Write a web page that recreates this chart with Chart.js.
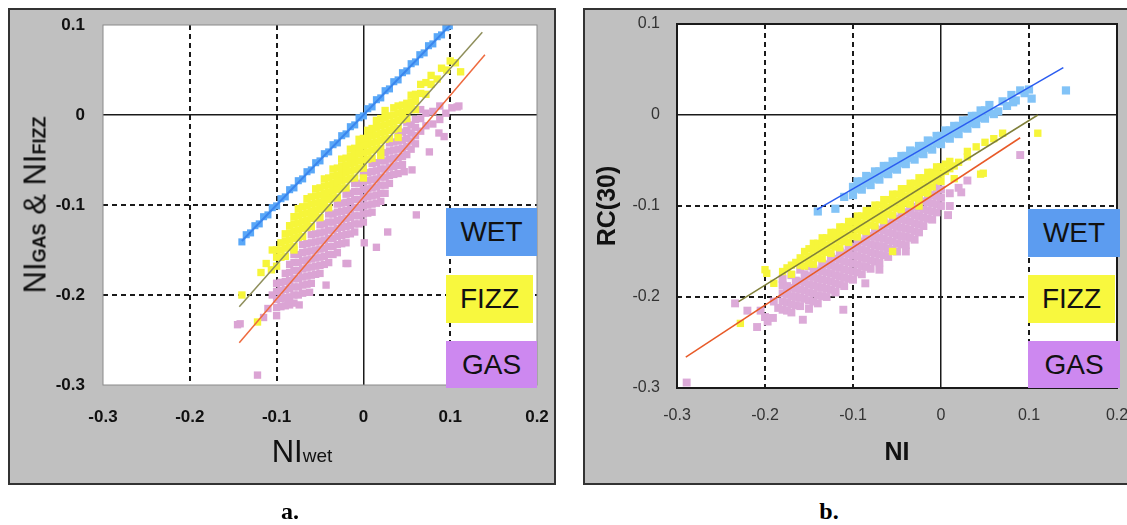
<!DOCTYPE html>
<html>
<head>
<meta charset="utf-8">
<script src="https://cdn.jsdelivr.net/npm/chart.js@4.4.1/dist/chart.umd.min.js"></script>
<style>
  html, body { margin: 0; padding: 0; width: 1127px; height: 525px; overflow: hidden; background: #fff;
    font-family: "Liberation Sans", Arial, sans-serif; }
  .box { position: absolute; background: #c0c0c0; border: 2px solid #333; box-sizing: border-box; }
  canvas { position: absolute; }
  .key { position: absolute; font-size: 28px; color: #111; display: flex; align-items: center; justify-content: center; }
  .title { position: absolute; white-space: nowrap; color: #111; line-height: 1; }
  .cap { position: absolute; font: bold 24px "Liberation Serif", serif; transform: translate(-50%, -50%); }
</style>
</head>
<body>
<div class="box" style="left:8px;top:8px;width:548px;height:477px"></div>
<div class="box" style="left:583px;top:8px;width:560px;height:477px"></div>
<canvas id="chartA" width="547" height="476" style="left:8px;top:8px"></canvas>
<canvas id="chartB" width="560" height="476" style="left:583px;top:8px"></canvas>

<div class="title" style="left:35px;top:205px;transform:translate(-50%,-50%) rotate(-90deg)"><span style="font-size:31px">NI</span><span style="font-size:18px;font-weight:bold">GAS</span><span style="font-size:31px"> &amp; NI</span><span style="font-size:18px;font-weight:bold">FIZZ</span></div>
<div class="title" style="left:302px;top:451px;transform:translate(-50%,-50%)"><span style="font-size:31px">NI</span><span style="font-size:19px">wet</span></div>

<div class="cap" style="left:290px;top:511px">a.</div>
<div class="cap" style="left:829px;top:511px">b.</div>

<script>
const xTicks = [-0.3, -0.2, -0.1, 0, 0.1, 0.2];
const yTicks = [-0.3, -0.2, -0.1, 0, 0.1];
const keyNames = ['WET', 'FIZZ', 'GAS'];

// panel a: NI_GAS & NI_FIZZ against NI_wet
const aWet = [[-0.140,-0.141],[-0.135,-0.133],[-0.130,-0.131],[-0.125,-0.123],[-0.120,-0.121],[-0.115,-0.113],
  [-0.110,-0.111],[-0.105,-0.103],[-0.100,-0.101],[-0.095,-0.093],[-0.090,-0.091],[-0.085,-0.083],[-0.080,-0.081],
  [-0.075,-0.073],[-0.070,-0.071],[-0.065,-0.063],[-0.060,-0.061],[-0.055,-0.053],[-0.050,-0.051],[-0.045,-0.043],
  [-0.040,-0.041],[-0.035,-0.033],[-0.030,-0.031],[-0.025,-0.023],[-0.020,-0.021],[-0.015,-0.013],[-0.010,-0.011],
  [-0.005,-0.003],[0.000,-0.001],[0.005,0.007],[0.010,0.009],[0.015,0.017],[0.020,0.019],[0.025,0.027],
  [0.030,0.029],[0.035,0.037],[0.040,0.039],[0.045,0.047],[0.050,0.049],[0.055,0.057],[0.060,0.059],
  [0.065,0.067],[0.070,0.069],[0.075,0.077],[0.080,0.079],[0.085,0.087],[0.090,0.089],[0.095,0.097],[0.099,0.099]];
const aFizz = [
  [-0.100,-0.168],[-0.100,-0.158],[-0.100,-0.150],[-0.095,-0.158],[-0.095,-0.150],[-0.095,-0.142],
  [-0.090,-0.157],[-0.090,-0.148],[-0.090,-0.140],[-0.090,-0.132],[-0.085,-0.147],[-0.085,-0.139],[-0.085,-0.131],
  [-0.085,-0.123],[-0.080,-0.146],[-0.080,-0.137],[-0.080,-0.129],[-0.080,-0.121],[-0.080,-0.113],
  [-0.075,-0.136],[-0.075,-0.128],[-0.075,-0.120],[-0.075,-0.112],[-0.075,-0.104],
  [-0.070,-0.135],[-0.070,-0.126],[-0.070,-0.118],[-0.070,-0.110],[-0.070,-0.102],
  [-0.065,-0.125],[-0.065,-0.117],[-0.065,-0.109],[-0.065,-0.101],[-0.065,-0.093],
  [-0.060,-0.124],[-0.060,-0.115],[-0.060,-0.107],[-0.060,-0.099],[-0.060,-0.091],
  [-0.055,-0.114],[-0.055,-0.106],[-0.055,-0.098],[-0.055,-0.090],[-0.055,-0.082],
  [-0.050,-0.114],[-0.050,-0.105],[-0.050,-0.097],[-0.050,-0.089],[-0.050,-0.081],
  [-0.045,-0.103],[-0.045,-0.095],[-0.045,-0.087],[-0.045,-0.079],[-0.045,-0.071],
  [-0.040,-0.103],[-0.040,-0.094],[-0.040,-0.086],[-0.040,-0.078],[-0.040,-0.070],
  [-0.035,-0.092],[-0.035,-0.084],[-0.035,-0.076],[-0.035,-0.068],[-0.035,-0.060],
  [-0.030,-0.092],[-0.030,-0.083],[-0.030,-0.075],[-0.030,-0.067],[-0.030,-0.059],
  [-0.025,-0.081],[-0.025,-0.073],[-0.025,-0.065],[-0.025,-0.057],[-0.025,-0.049],
  [-0.020,-0.081],[-0.020,-0.072],[-0.020,-0.064],[-0.020,-0.056],[-0.020,-0.048],
  [-0.015,-0.070],[-0.015,-0.062],[-0.015,-0.054],[-0.015,-0.046],[-0.015,-0.038],
  [-0.010,-0.070],[-0.010,-0.061],[-0.010,-0.053],[-0.010,-0.045],[-0.010,-0.037],
  [-0.005,-0.059],[-0.005,-0.051],[-0.005,-0.043],[-0.005,-0.035],[-0.005,-0.027],
  [0.000,-0.059],[0.000,-0.050],[0.000,-0.042],[0.000,-0.034],[0.000,-0.026],
  [0.005,-0.049],[0.005,-0.041],[0.005,-0.033],[0.005,-0.025],[0.005,-0.017],
  [0.010,-0.048],[0.010,-0.039],[0.010,-0.031],[0.010,-0.023],[0.010,-0.015],
  [0.015,-0.038],[0.015,-0.030],[0.015,-0.022],[0.015,-0.014],[0.015,-0.006],
  [0.020,-0.037],[0.020,-0.028],[0.020,-0.020],[0.020,-0.012],[0.020,-0.004],
  [0.025,-0.027],[0.025,-0.019],[0.025,-0.011],[0.025,-0.003],[0.025,0.005],
  [0.030,-0.026],[0.030,-0.017],[0.030,-0.009],[0.030,-0.001],[0.035,-0.016],[0.035,-0.008],[0.035,0.000],
  [0.035,0.008],[0.040,-0.015],[0.040,-0.006],[0.040,0.002],[0.040,0.010],[0.045,-0.005],[0.045,0.003],
  [0.045,0.011],[0.050,-0.004],[0.050,0.005],[0.050,0.013],[0.055,0.006],[0.055,0.014],[0.055,0.022],
  [0.060,0.006],[0.060,0.015],[0.060,0.023],
  [0.066,0.024],[0.066,0.034],[0.072,0.023],[0.072,0.036],[0.078,0.034],[0.078,0.044],[0.085,0.040],
  [0.090,0.052],[0.096,0.050],[0.100,0.060],[0.106,0.058],[0.112,0.048],
  [-0.140,-0.200],[-0.122,-0.230],[-0.118,-0.175],[-0.112,-0.165],[-0.106,-0.172],[-0.105,-0.150],
  [-0.080,-0.150],[0.000,-0.070],[0.020,-0.045],[0.040,-0.025]];
const aGas = [
  [-0.100,-0.223],[-0.100,-0.214],[-0.100,-0.205],[-0.100,-0.196],[-0.100,-0.187],
  [-0.095,-0.213],[-0.095,-0.204],[-0.095,-0.195],[-0.095,-0.186],
  [-0.090,-0.212],[-0.090,-0.203],[-0.090,-0.194],[-0.090,-0.185],[-0.090,-0.176],
  [-0.085,-0.211],[-0.085,-0.202],[-0.085,-0.193],[-0.085,-0.184],[-0.085,-0.175],[-0.085,-0.166],
  [-0.080,-0.209],[-0.080,-0.200],[-0.080,-0.191],[-0.080,-0.182],[-0.080,-0.173],[-0.080,-0.164],[-0.080,-0.155],
  [-0.075,-0.200],[-0.075,-0.191],[-0.075,-0.182],[-0.075,-0.173],[-0.075,-0.164],[-0.075,-0.155],
  [-0.070,-0.198],[-0.070,-0.189],[-0.070,-0.180],[-0.070,-0.171],[-0.070,-0.162],[-0.070,-0.153],[-0.070,-0.144],
  [-0.065,-0.188],[-0.065,-0.179],[-0.065,-0.170],[-0.065,-0.161],[-0.065,-0.152],[-0.065,-0.143],
  [-0.060,-0.187],[-0.060,-0.178],[-0.060,-0.169],[-0.060,-0.160],[-0.060,-0.151],[-0.060,-0.142],[-0.060,-0.133],
  [-0.055,-0.177],[-0.055,-0.168],[-0.055,-0.159],[-0.055,-0.150],[-0.055,-0.141],[-0.055,-0.132],
  [-0.050,-0.176],[-0.050,-0.167],[-0.050,-0.158],[-0.050,-0.149],[-0.050,-0.140],[-0.050,-0.131],[-0.050,-0.122],
  [-0.045,-0.166],[-0.045,-0.157],[-0.045,-0.148],[-0.045,-0.139],[-0.045,-0.130],[-0.045,-0.121],
  [-0.040,-0.164],[-0.040,-0.155],[-0.040,-0.146],[-0.040,-0.137],[-0.040,-0.128],[-0.040,-0.119],[-0.040,-0.110],
  [-0.035,-0.155],[-0.035,-0.146],[-0.035,-0.137],[-0.035,-0.128],[-0.035,-0.119],[-0.035,-0.110],
  [-0.030,-0.153],[-0.030,-0.144],[-0.030,-0.135],[-0.030,-0.126],[-0.030,-0.117],[-0.030,-0.108],[-0.030,-0.099],
  [-0.025,-0.143],[-0.025,-0.134],[-0.025,-0.125],[-0.025,-0.116],[-0.025,-0.107],[-0.025,-0.098],
  [-0.020,-0.142],[-0.020,-0.133],[-0.020,-0.124],[-0.020,-0.115],[-0.020,-0.106],[-0.020,-0.097],[-0.020,-0.088],
  [-0.015,-0.132],[-0.015,-0.123],[-0.015,-0.114],[-0.015,-0.105],[-0.015,-0.096],[-0.015,-0.087],
  [-0.010,-0.130],[-0.010,-0.121],[-0.010,-0.112],[-0.010,-0.103],[-0.010,-0.094],[-0.010,-0.085],[-0.010,-0.076],
  [-0.005,-0.121],[-0.005,-0.112],[-0.005,-0.103],[-0.005,-0.094],[-0.005,-0.085],[-0.005,-0.076],
  [0.000,-0.119],[0.000,-0.110],[0.000,-0.101],[0.000,-0.092],[0.000,-0.083],[0.000,-0.074],[0.000,-0.065],
  [0.005,-0.109],[0.005,-0.100],[0.005,-0.091],[0.005,-0.082],[0.005,-0.073],[0.005,-0.064],
  [0.010,-0.108],[0.010,-0.099],[0.010,-0.090],[0.010,-0.081],[0.010,-0.072],[0.010,-0.063],[0.010,-0.054],
  [0.015,-0.098],[0.015,-0.089],[0.015,-0.080],[0.015,-0.071],[0.015,-0.062],[0.015,-0.053],
  [0.020,-0.096],[0.020,-0.087],[0.020,-0.078],[0.020,-0.069],[0.020,-0.060],[0.020,-0.051],[0.020,-0.042],
  [0.025,-0.087],[0.025,-0.078],[0.025,-0.069],[0.025,-0.060],[0.025,-0.051],[0.025,-0.042],
  [0.030,-0.076],[0.030,-0.067],[0.030,-0.058],[0.030,-0.049],[0.030,-0.040],[0.030,-0.031],
  [0.035,-0.066],[0.035,-0.057],[0.035,-0.048],[0.035,-0.039],[0.035,-0.030],
  [0.040,-0.065],[0.040,-0.056],[0.040,-0.047],[0.040,-0.038],[0.040,-0.029],[0.040,-0.020],
  [0.045,-0.055],[0.045,-0.046],[0.045,-0.037],[0.045,-0.028],[0.045,-0.019],
  [0.050,-0.044],[0.050,-0.035],[0.050,-0.026],[0.050,-0.017],[0.050,-0.008],
  [0.055,-0.038],[0.055,-0.029],[0.055,-0.020],[0.055,-0.011],[0.060,-0.032],[0.060,-0.023],[0.060,-0.014],
  [0.060,-0.005],[0.066,-0.018],[0.066,-0.004],[0.066,0.006],[0.072,-0.012],[0.072,0.002],[0.080,-0.010],
  [0.080,0.004],[0.088,0.010],[0.088,-0.005],[0.095,0.002],[0.102,0.008],[0.110,0.010],
  [-0.142,-0.232],[-0.145,-0.233],[-0.122,-0.289],[-0.115,-0.225],[-0.110,-0.215],[-0.105,-0.200],[-0.087,-0.208],
  [-0.074,-0.211],[-0.062,-0.197],[-0.043,-0.189],[-0.020,-0.165],[-0.018,-0.165],[0.001,-0.142],[0.015,-0.147],
  [0.028,-0.130],[0.047,-0.063],[0.056,-0.061],[0.061,-0.111],[0.087,-0.020],[0.093,-0.024],[0.108,0.009],
  [0.076,-0.041]];
const aWetFit = [[-0.140,-0.140],[0.100,0.100]];
const aFizzFit = [[-0.143,-0.213],[0.137,0.092]];
const aGasFit = [[-0.143,-0.253],[0.140,0.067]];

// panel b: RC(30) against NI
const bWet = [[-0.140,-0.106],[-0.120,-0.103],[-0.110,-0.090],[-0.100,-0.088],[-0.100,-0.079],[-0.095,-0.081],
  [-0.095,-0.073],[-0.090,-0.082],[-0.090,-0.073],[-0.085,-0.075],[-0.085,-0.067],[-0.080,-0.077],[-0.080,-0.068],
  [-0.075,-0.070],[-0.075,-0.062],[-0.070,-0.071],[-0.070,-0.062],[-0.065,-0.064],[-0.065,-0.056],[-0.060,-0.065],
  [-0.060,-0.056],[-0.055,-0.059],[-0.055,-0.051],[-0.050,-0.060],[-0.050,-0.051],[-0.045,-0.053],[-0.045,-0.045],
  [-0.040,-0.054],[-0.040,-0.045],[-0.035,-0.047],[-0.035,-0.039],[-0.030,-0.049],[-0.030,-0.040],[-0.025,-0.042],
  [-0.025,-0.034],[-0.020,-0.043],[-0.020,-0.034],[-0.015,-0.036],[-0.015,-0.028],[-0.010,-0.038],[-0.010,-0.029],
  [-0.005,-0.031],[-0.005,-0.023],[0.000,-0.032],[0.000,-0.023],[0.005,-0.025],[0.005,-0.017],[0.010,-0.026],
  [0.010,-0.017],[0.015,-0.020],[0.015,-0.012],[0.020,-0.021],[0.020,-0.012],[0.025,-0.014],[0.025,-0.006],
  [0.030,-0.015],[0.030,-0.006],[0.035,-0.009],[0.035,-0.001],[0.040,-0.010],[0.040,-0.001],[0.045,-0.003],
  [0.045,0.005],[0.050,-0.004],[0.050,0.005],[0.055,0.003],[0.055,0.011],[0.060,0.001],[0.065,0.004],
  [0.070,0.015],[0.075,0.010],[0.080,0.022],[0.082,0.014],[0.085,0.016],[0.090,0.027],[0.095,0.024],
  [0.100,0.028],[0.103,0.018],[0.142,0.027]];
const bFizz = [
  [-0.160,-0.165],[-0.160,-0.157],[-0.155,-0.166],[-0.155,-0.158],[-0.155,-0.150],[-0.150,-0.163],[-0.150,-0.155],
  [-0.150,-0.147],[-0.145,-0.164],[-0.145,-0.156],[-0.145,-0.148],[-0.145,-0.141],[-0.140,-0.157],[-0.140,-0.149],
  [-0.140,-0.141],[-0.135,-0.158],[-0.135,-0.150],[-0.135,-0.142],[-0.135,-0.135],[-0.130,-0.151],[-0.130,-0.143],
  [-0.130,-0.135],[-0.125,-0.152],[-0.125,-0.144],[-0.125,-0.136],[-0.125,-0.129],[-0.120,-0.145],[-0.120,-0.137],
  [-0.120,-0.129],[-0.115,-0.146],[-0.115,-0.138],[-0.115,-0.130],[-0.115,-0.123],[-0.110,-0.139],[-0.110,-0.131],
  [-0.110,-0.123],[-0.105,-0.140],[-0.105,-0.132],[-0.105,-0.124],[-0.105,-0.117],[-0.100,-0.133],[-0.100,-0.125],
  [-0.100,-0.117],[-0.095,-0.134],[-0.095,-0.126],[-0.095,-0.118],[-0.095,-0.111],[-0.090,-0.127],[-0.090,-0.119],
  [-0.090,-0.111],[-0.085,-0.128],[-0.085,-0.120],[-0.085,-0.112],[-0.085,-0.105],[-0.080,-0.121],[-0.080,-0.113],
  [-0.080,-0.105],[-0.075,-0.122],[-0.075,-0.114],[-0.075,-0.106],[-0.075,-0.099],[-0.070,-0.115],[-0.070,-0.107],
  [-0.070,-0.099],[-0.065,-0.116],[-0.065,-0.108],[-0.065,-0.100],[-0.065,-0.093],[-0.060,-0.109],[-0.060,-0.101],
  [-0.060,-0.093],[-0.055,-0.110],[-0.055,-0.102],[-0.055,-0.094],[-0.055,-0.087],[-0.050,-0.103],[-0.050,-0.095],
  [-0.050,-0.087],[-0.045,-0.104],[-0.045,-0.096],[-0.045,-0.088],[-0.045,-0.081],[-0.040,-0.097],[-0.040,-0.089],
  [-0.040,-0.081],[-0.035,-0.098],[-0.035,-0.090],[-0.035,-0.082],[-0.035,-0.075],[-0.030,-0.091],[-0.030,-0.083],
  [-0.030,-0.075],[-0.025,-0.092],[-0.025,-0.084],[-0.025,-0.076],[-0.025,-0.069],[-0.020,-0.085],[-0.020,-0.077],
  [-0.020,-0.069],[-0.015,-0.086],[-0.015,-0.078],[-0.015,-0.070],[-0.015,-0.063],[-0.010,-0.079],[-0.010,-0.071],
  [-0.010,-0.063],[-0.005,-0.072],[-0.005,-0.064],[-0.005,-0.057],[0.000,-0.073],[0.000,-0.065],[0.000,-0.057],
  [0.005,-0.062],[0.005,-0.054],[0.010,-0.059],[0.010,-0.051],[0.015,-0.056],[0.020,-0.052],
  [-0.200,-0.170],[-0.198,-0.174],[-0.190,-0.185],[-0.180,-0.172],[-0.175,-0.168],[-0.170,-0.165],[-0.170,-0.175],
  [-0.165,-0.162],[0.030,-0.046],[0.030,-0.040],[0.040,-0.035],[0.050,-0.030],[0.060,-0.026],[0.070,-0.020],
  [0.110,-0.020],[0.045,-0.065],[0.048,-0.064],[-0.025,-0.100],[0.015,-0.070],[-0.055,-0.150],[-0.228,-0.229]];
const bGas = [
  [-0.180,-0.214],[-0.180,-0.205],[-0.180,-0.196],[-0.180,-0.187],[-0.175,-0.215],[-0.175,-0.206],[-0.175,-0.197],
  [-0.175,-0.188],[-0.170,-0.217],[-0.170,-0.208],[-0.170,-0.199],[-0.170,-0.190],[-0.165,-0.209],[-0.165,-0.200],
  [-0.165,-0.191],[-0.165,-0.182],[-0.160,-0.210],[-0.160,-0.201],[-0.160,-0.192],[-0.160,-0.183],[-0.155,-0.202],
  [-0.155,-0.193],[-0.155,-0.184],[-0.155,-0.175],[-0.150,-0.213],[-0.150,-0.204],[-0.150,-0.195],[-0.150,-0.186],
  [-0.150,-0.177],[-0.145,-0.205],[-0.145,-0.196],[-0.145,-0.187],[-0.145,-0.178],[-0.145,-0.169],[-0.140,-0.207],
  [-0.140,-0.198],[-0.140,-0.189],[-0.140,-0.180],[-0.140,-0.171],[-0.135,-0.199],[-0.135,-0.190],[-0.135,-0.181],
  [-0.135,-0.172],[-0.135,-0.163],[-0.130,-0.200],[-0.130,-0.191],[-0.130,-0.182],[-0.130,-0.173],[-0.130,-0.164],
  [-0.125,-0.192],[-0.125,-0.183],[-0.125,-0.174],[-0.125,-0.165],[-0.125,-0.156],[-0.120,-0.194],[-0.120,-0.185],
  [-0.120,-0.176],[-0.120,-0.167],[-0.120,-0.158],[-0.115,-0.186],[-0.115,-0.177],[-0.115,-0.168],[-0.115,-0.159],
  [-0.115,-0.150],[-0.110,-0.188],[-0.110,-0.179],[-0.110,-0.170],[-0.110,-0.161],[-0.110,-0.152],[-0.105,-0.180],
  [-0.105,-0.171],[-0.105,-0.162],[-0.105,-0.153],[-0.105,-0.144],[-0.100,-0.181],[-0.100,-0.172],[-0.100,-0.163],
  [-0.100,-0.154],[-0.100,-0.145],[-0.095,-0.173],[-0.095,-0.164],[-0.095,-0.155],[-0.095,-0.146],[-0.095,-0.137],
  [-0.090,-0.175],[-0.090,-0.166],[-0.090,-0.157],[-0.090,-0.148],[-0.090,-0.139],[-0.085,-0.167],[-0.085,-0.158],
  [-0.085,-0.149],[-0.085,-0.140],[-0.085,-0.131],[-0.080,-0.169],[-0.080,-0.160],[-0.080,-0.151],[-0.080,-0.142],
  [-0.080,-0.133],[-0.075,-0.161],[-0.075,-0.152],[-0.075,-0.143],[-0.075,-0.134],[-0.075,-0.125],[-0.070,-0.162],
  [-0.070,-0.153],[-0.070,-0.144],[-0.070,-0.135],[-0.070,-0.126],[-0.065,-0.154],[-0.065,-0.145],[-0.065,-0.136],
  [-0.065,-0.127],[-0.065,-0.118],[-0.060,-0.156],[-0.060,-0.147],[-0.060,-0.138],[-0.060,-0.129],[-0.060,-0.120],
  [-0.055,-0.148],[-0.055,-0.139],[-0.055,-0.130],[-0.055,-0.121],[-0.055,-0.112],[-0.050,-0.150],[-0.050,-0.141],
  [-0.050,-0.132],[-0.050,-0.123],[-0.050,-0.114],[-0.045,-0.142],[-0.045,-0.133],[-0.045,-0.124],[-0.045,-0.115],
  [-0.045,-0.106],[-0.040,-0.143],[-0.040,-0.134],[-0.040,-0.125],[-0.040,-0.116],[-0.040,-0.107],[-0.035,-0.135],
  [-0.035,-0.126],[-0.035,-0.117],[-0.035,-0.108],[-0.035,-0.099],[-0.030,-0.137],[-0.030,-0.128],[-0.030,-0.119],
  [-0.030,-0.110],[-0.030,-0.101],[-0.025,-0.129],[-0.025,-0.120],[-0.025,-0.111],[-0.025,-0.102],[-0.025,-0.093],
  [-0.020,-0.122],[-0.020,-0.113],[-0.020,-0.104],[-0.020,-0.095],[-0.015,-0.114],[-0.015,-0.105],[-0.015,-0.096],
  [-0.015,-0.087],[-0.010,-0.115],[-0.010,-0.106],[-0.010,-0.097],[-0.010,-0.088],[-0.005,-0.107],[-0.005,-0.098],
  [-0.005,-0.089],[-0.005,-0.080],[0.000,-0.100],[0.000,-0.091],[0.000,-0.082],[0.010,-0.100],[0.010,-0.086],
  [0.020,-0.080],[0.030,-0.072],
  [-0.234,-0.207],[-0.220,-0.215],[-0.209,-0.233],[-0.205,-0.215],[-0.200,-0.222],[-0.197,-0.227],[-0.191,-0.223],
  [-0.190,-0.205],[-0.185,-0.212],[-0.157,-0.225],[-0.111,-0.214],[-0.086,-0.185],[0.090,-0.044],[0.008,-0.110],
  [0.023,-0.085],[-0.289,-0.294],[-0.120,-0.195],[-0.070,-0.170],[-0.040,-0.150],[-0.180,-0.180],[-0.170,-0.176],
  [-0.160,-0.170],[-0.150,-0.166]];
const bWetFit = [[-0.141,-0.104],[0.139,0.052]];
const bFizzFit = [[-0.230,-0.205],[0.110,0.000]];
const bGasFit = [[-0.290,-0.266],[0.090,-0.025]];

const keyColors = ['#5c9cf0', '#f8f83e', '#cd88f0'];

function fmt(v) {
  return Math.abs(v) < 1e-9 ? '0' : String(Math.round(v * 10) / 10);
}

function pts(data, color, r) {
  return { data, backgroundColor: color, borderWidth: 0, pointStyle: 'rect', pointRadius: r, showLine: false };
}
function fit(data, color, w) {
  return { data, borderColor: color, borderWidth: w, pointRadius: 0, showLine: true, fill: false };
}

function axis(ticks, o) {
  const lo = ticks[0], hi = ticks[ticks.length - 1];
  const isZero = c => c.tick && Math.abs(c.tick.value) < 1e-9;
  const isEdge = c => c.tick && (Math.abs(c.tick.value - lo) < 1e-9 || Math.abs(c.tick.value - hi) < 1e-9);
  return {
    type: 'linear', min: lo, max: hi,
    afterBuildTicks: s => { s.ticks = ticks.map(v => ({ value: v })); },
    afterFit: s => {
      if (s.isHorizontal()) s.height = o.size; else s.width = o.size;
      // keep the plot box exactly where the layout padding puts it
      s.paddingLeft = s.paddingRight = s.paddingTop = s.paddingBottom = 0;
    },
    grid: {
      drawTicks: false,
      color: c => isEdge(c) ? 'rgba(0,0,0,0)' : '#1a1a1a',
      lineWidth: c => isZero(c) ? 1.5 : 2
    },
    border: { display: false, dash: c => isZero(c) ? [] : [5, 4] },
    ticks: { padding: o.pad, color: o.color, font: o.font, callback: v => fmt(v) },
    title: o.title || { display: false }
  };
}

const plotFrame = {
  id: 'plotFrame',
  beforeDraw(chart, args, opts) {
    const { ctx, chartArea: a } = chart;
    ctx.save();
    ctx.fillStyle = '#fff';
    ctx.fillRect(a.left, a.top, a.width, a.height);
    ctx.restore();
  },
  afterDraw(chart, args, opts) {
    const { ctx, chartArea: a } = chart;
    ctx.save();
    ctx.strokeStyle = opts.color;
    ctx.lineWidth = opts.width;
    ctx.strokeRect(a.left, a.top, a.width, a.height);
    ctx.restore();
  }
};

function panel(id, datasets, o) {
  new Chart(document.getElementById(id), {
    type: 'scatter',
    data: { datasets },
    options: {
      responsive: false,
      animation: false,
      events: [],
      layout: { padding: o.padding },
      plugins: {
        legend: { display: false },
        tooltip: { enabled: false },
        plotFrame: o.frame
      },
      scales: { x: axis(xTicks, o.x), y: axis(yTicks, o.y) }
    },
    plugins: [plotFrame]
  });
}

// Panel a
const boldTick = { family: 'Liberation Sans', size: 17, weight: 'bold' };
panel('chartA', [
  fit(aWetFit, '#3a86ee', 2),
  fit(aFizzFit, '#8e8e5a', 1.5),
  fit(aGasFit, '#ee6a3e', 1.5),
  pts(aWet, '#5aa8f8', 5),
  pts(aFizz, '#f6f53a', 5.2),
  pts(aGas, '#dba4d4', 5.2)
], {
  padding: { top: 17, right: 18, left: 0, bottom: 0 },
  frame: { color: '#8a8a8a', width: 1 },
  x: { size: 99, pad: 22, color: '#111', font: boldTick },
  y: { size: 95, pad: 18, color: '#111', font: boldTick }
});

// Panel b
const thinTick = { family: 'Liberation Sans', size: 16 };
panel('chartB', [
  fit(bWetFit, '#2a5cf0', 1.5),
  fit(bFizzFit, '#7f7f3a', 1.5),
  fit(bGasFit, '#e85a28', 1.5),
  pts(bWet, '#82c3f7', 5.8),
  pts(bFizz, '#f6f53a', 5.2),
  pts(bGas, '#dcaad8', 5.6)
], {
  padding: { top: 16, right: 26, left: 0, bottom: 0 },
  frame: { color: '#1a1a1a', width: 2 },
  x: { size: 96, pad: 18, color: '#333', font: thinTick,
       title: { display: true, text: 'NI', color: '#111', padding: { top: 0, bottom: 16 },
                font: { family: 'Liberation Sans', size: 25, weight: 'bold' } } },
  y: { size: 94, pad: 17, color: '#333', font: thinTick,
       title: { display: true, text: 'RC(30)', color: '#111', padding: { top: 10, bottom: 0 },
                font: { family: 'Liberation Sans', size: 25, weight: 'bold' } } }
});

// WET / FIZZ / GAS key boxes
const keyBoxes = [
  [[446, 208, 91, 48], [446, 275, 87, 48], [446, 341, 91, 47]],
  [[1028, 209, 92, 48], [1028, 275, 87, 48], [1028, 341, 92, 47]]
];
keyBoxes.forEach(group => group.forEach((b, i) => {
  const d = document.createElement('div');
  d.className = 'key';
  d.textContent = keyNames[i];
  d.style.cssText = `left:${b[0]}px;top:${b[1]}px;width:${b[2]}px;height:${b[3]}px;background:${keyColors[i]}`;
  document.body.appendChild(d);
}));
</script>
</body>
</html>
